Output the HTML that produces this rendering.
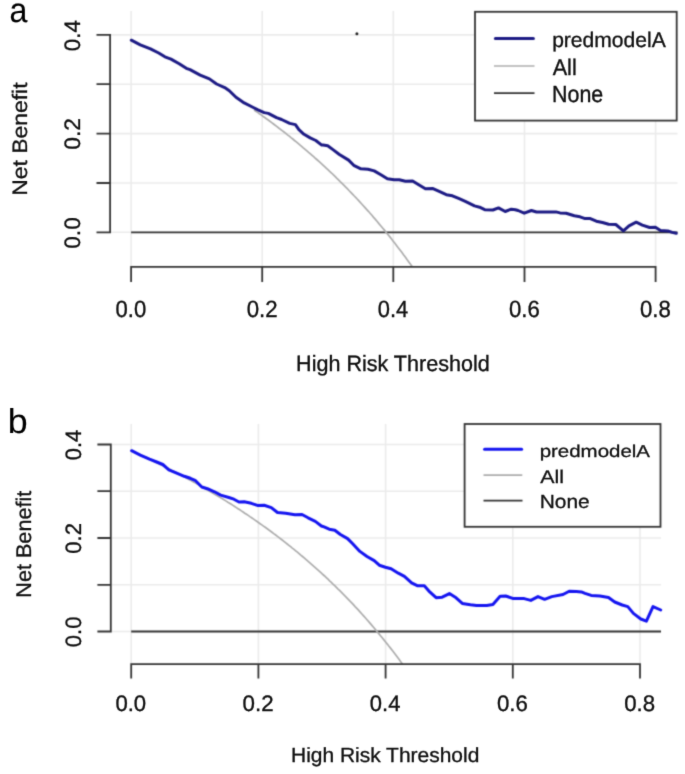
<!DOCTYPE html>
<html><head><meta charset="utf-8"><style>
html,body{margin:0;padding:0;background:#fff;}
body{width:685px;height:774px;overflow:hidden;}
svg{display:block;}
text{font-family:"Liberation Sans",sans-serif;text-rendering:geometricPrecision;}
</style></head><body>
<svg width="685" height="774" viewBox="0 0 685 774">
<defs><filter id="bl" x="0" y="0" width="685" height="774" filterUnits="userSpaceOnUse" color-interpolation-filters="sRGB"><feConvolveMatrix order="5" kernelMatrix="0.00001 0.00042 0.00170 0.00042 0.00001 0.00042 0.02740 0.10988 0.02740 0.00042 0.00170 0.10988 0.44065 0.10988 0.00170 0.00042 0.02740 0.10988 0.02740 0.00042 0.00001 0.00042 0.00170 0.00042 0.00001" edgeMode="duplicate" preserveAlpha="true"/></filter>
<filter id="th" x="0" y="0" width="685" height="774" filterUnits="userSpaceOnUse" color-interpolation-filters="sRGB"><feConvolveMatrix order="3" kernelMatrix="0.01134 0.08382 0.01134 0.08382 0.61935 0.08382 0.01134 0.08382 0.01134" edgeMode="none" preserveAlpha="false"/></filter></defs>
<g filter="url(#bl)">
<rect width="685" height="774" fill="#fff"/>
<path d="M131.1 11V266.8M262.2 11V266.8M393.3 11V266.8M524.5 11V266.8M655.6 11V266.8M110.1 232.3H677.5M110.1 183.0H677.5M110.1 133.6H677.5M110.1 84.2H677.5M110.1 34.9H677.5" stroke="#ebebeb" stroke-width="1.6" fill="none"/>
<path d="M131.1 232.3H677.5" stroke="#333" stroke-width="1.8" fill="none"/>
<polyline points="254.1,110.0 255.9,111.2 257.6,112.4 259.4,113.7 261.2,114.9 262.9,116.2 264.7,117.5 266.4,118.8 268.2,120.0 269.9,121.3 271.7,122.6 273.5,124.0 275.2,125.3 277.0,126.6 278.7,128.0 280.5,129.3 282.2,130.7 284.0,132.0 285.8,133.4 287.5,134.8 289.3,136.2 291.0,137.6 292.8,139.0 294.5,140.5 296.3,141.9 298.1,143.4 299.8,144.8 301.6,146.3 303.3,147.8 305.1,149.3 306.9,150.8 308.6,152.3 310.4,153.8 312.1,155.3 313.9,156.9 315.6,158.5 317.4,160.0 319.2,161.6 320.9,163.2 322.7,164.8 324.4,166.4 326.2,168.1 327.9,169.7 329.7,171.4 331.5,173.0 333.2,174.7 335.0,176.4 336.7,178.1 338.5,179.8 340.2,181.6 342.0,183.3 343.8,185.1 345.5,186.9 347.3,188.7 349.0,190.5 350.8,192.3 352.5,194.1 354.3,196.0 356.1,197.8 357.8,199.7 359.6,201.6 361.3,203.5 363.1,205.5 364.8,207.4 366.6,209.4 368.4,211.3 370.1,213.3 371.9,215.3 373.6,217.4 375.4,219.4 377.2,221.5 378.9,223.6 380.7,225.7 382.4,227.8 384.2,229.9 385.9,232.1 387.7,234.2 389.5,236.4 391.2,238.6 393.0,240.9 394.7,243.1 396.5,245.4 398.2,247.7 400.0,250.0 401.8,252.3 403.5,254.7 405.3,257.1 407.0,259.5 408.8,261.9 410.5,264.3 412.3,266.8" stroke="#adadad" stroke-width="1.7" fill="none"/>
<polyline points="131.3,40.2 140.3,44.8 150.5,48.9 158.7,53.0 164.9,56.8 171.0,59.1 179.2,63.7 186.3,68.3 190.0,69.7 200.2,75.1 209.4,78.9 216.6,84.0 224.7,87.6 229.3,90.7 236.0,97.3 244.2,102.9 252.3,107.0 258.0,109.8 264.2,112.6 268.3,113.4 276.5,117.7 281.6,119.5 289.7,123.4 295.4,124.6 298.9,129.7 304.0,134.3 310.2,137.9 315.8,140.5 321.4,144.9 323.1,145.1 327.7,145.8 333.3,149.9 339.4,154.5 348.6,160.1 353.7,165.3 360.9,168.8 368.0,169.3 374.2,170.9 381.3,175.0 387.4,178.8 394.2,179.8 399.3,179.8 405.4,181.2 412.6,180.9 418.7,184.7 425.4,188.8 433.0,188.6 439.2,191.4 446.3,194.7 452.4,195.8 459.2,198.7 465.3,201.4 474.5,205.9 479.6,207.2 484.7,209.7 492.9,210.0 498.5,207.9 505.2,211.5 511.3,209.2 515.4,209.7 518.1,210.5 524.2,213.2 531.4,210.5 536.5,212.0 545.7,211.9 555.9,211.9 560.0,212.9 566.1,213.2 574.3,215.8 580.0,216.8 585.1,218.6 589.7,218.4 596.3,221.2 602.5,222.5 608.6,224.2 615.8,224.5 623.4,230.9 629.0,225.8 636.2,222.2 642.3,225.1 649.6,227.5 655.4,227.3 660.5,230.5 667.8,230.9 672.2,232.4 676.2,233.3" stroke="#1c1a84" stroke-width="3.0" fill="none" stroke-linejoin="round" stroke-linecap="round"/>
<path d="M110.1 232.3V34.9M110.1 232.3H97.39999999999999M110.1 183.0H97.39999999999999M110.1 133.6H97.39999999999999M110.1 84.2H97.39999999999999M110.1 34.9H97.39999999999999M131.1 266.8H655.6M131.1 266.8V281.0M262.2 266.8V281.0M393.3 266.8V281.0M524.5 266.8V281.0M655.6 266.8V281.0" stroke="#333" stroke-width="1.8" fill="none" stroke-linecap="square"/>
<path d="M131.2 424V664.2M258.4 424V664.2M385.6 424V664.2M512.8 424V664.2M640.0 424V664.2M110.8 631.5H661M110.8 584.8H661M110.8 538.0H661M110.8 491.2H661M110.8 444.5H661" stroke="#ebebeb" stroke-width="1.6" fill="none"/>
<path d="M131.2 631.5H661" stroke="#333" stroke-width="1.8" fill="none"/>
<polyline points="131.2,450.8 132.9,451.5 134.6,452.3 136.3,453.1 138.0,453.9 139.7,454.6 141.4,455.4 143.1,456.2 144.8,457.0 146.5,457.8 148.2,458.6 149.9,459.4 151.6,460.2 153.2,461.1 154.9,461.9 156.6,462.7 158.3,463.5 160.0,464.4 161.7,465.2 163.4,466.1 165.1,466.9 166.8,467.8 168.5,468.6 170.2,469.5 171.9,470.4 173.6,471.2 175.3,472.1 177.0,473.0 178.7,473.9 180.4,474.8 182.1,475.7 183.8,476.6 185.5,477.5 187.2,478.4 188.9,479.4 190.6,480.3 192.3,481.2 194.0,482.2 195.7,483.1 197.3,484.1 199.0,485.0 200.7,486.0 202.4,486.9 204.1,487.9 205.8,488.9 207.5,489.9 209.2,490.9 210.9,491.9 212.6,492.9 214.3,493.9 216.0,494.9 217.7,495.9 219.4,496.9 221.1,498.0 222.8,499.0 224.5,500.1 226.2,501.1 227.9,502.2 229.6,503.2 231.3,504.3 233.0,505.4 234.7,506.5 236.4,507.6 238.1,508.7 239.8,509.8 241.4,510.9 243.1,512.0 244.8,513.2 246.5,514.3 248.2,515.4 249.9,516.6 251.6,517.7 253.3,518.9 255.0,520.1 256.7,521.3 258.4,522.5 260.1,523.7 261.8,524.9 263.5,526.1 265.2,527.3 266.9,528.5 268.6,529.8 270.3,531.0 272.0,532.3 273.7,533.6 275.4,534.8 277.1,536.1 278.8,537.4 280.5,538.7 282.2,540.0 283.9,541.3 285.5,542.7 287.2,544.0 288.9,545.3 290.6,546.7 292.3,548.1 294.0,549.4 295.7,550.8 297.4,552.2 299.1,553.6 300.8,555.1 302.5,556.5 304.2,557.9 305.9,559.4 307.6,560.8 309.3,562.3 311.0,563.8 312.7,565.3 314.4,566.8 316.1,568.3 317.8,569.8 319.5,571.3 321.2,572.9 322.9,574.5 324.6,576.0 326.3,577.6 328.0,579.2 329.6,580.8 331.3,582.4 333.0,584.1 334.7,585.7 336.4,587.4 338.1,589.1 339.8,590.7 341.5,592.4 343.2,594.2 344.9,595.9 346.6,597.6 348.3,599.4 350.0,601.2 351.7,602.9 353.4,604.7 355.1,606.6 356.8,608.4 358.5,610.2 360.2,612.1 361.9,614.0 363.6,615.9 365.3,617.8 367.0,619.7 368.7,621.6 370.4,623.6 372.1,625.6 373.7,627.5 375.4,629.5 377.1,631.6 378.8,633.6 380.5,635.7 382.2,637.8 383.9,639.9 385.6,642.0 387.3,644.1 389.0,646.3 390.7,648.4 392.4,650.6 394.1,652.8 395.8,655.1 397.5,657.3 399.2,659.6 400.9,661.9 402.6,664.2" stroke="#adadad" stroke-width="1.7" fill="none"/>
<polyline points="131.6,450.7 140.3,455.1 149.5,459.2 156.7,462.0 162.8,464.5 168.9,469.8 176.1,472.9 184.3,476.3 190.4,478.3 195.1,480.3 201.8,487.0 207.4,488.7 214.5,491.8 220.7,495.1 228.8,497.5 233.9,499.2 239.0,502.0 244.2,501.8 251.3,503.3 257.4,505.4 264.2,505.3 271.3,507.6 277.5,512.5 285.7,513.2 294.9,514.7 302.0,514.5 308.1,517.8 315.3,521.4 321.4,526.0 324.1,526.9 329.2,529.2 334.8,530.2 340.4,534.5 347.6,538.6 352.7,543.7 359.9,551.4 367.0,556.5 374.2,560.6 379.3,565.2 385.4,567.2 391.1,568.8 398.3,573.2 404.4,576.3 411.6,582.9 417.7,585.8 424.3,585.8 428.9,591.1 436.1,597.7 442.2,597.2 449.4,593.6 456.1,597.8 462.3,603.4 470.4,604.8 476.6,605.5 486.8,605.5 492.9,604.5 500.1,596.3 505.7,596.0 513.4,598.6 524.2,598.6 530.8,600.4 538.0,596.6 544.6,599.3 551.8,596.6 563.0,594.5 569.2,591.2 576.3,591.5 581.4,591.9 585.0,593.3 591.2,595.4 599.9,596.1 608.5,597.5 614.7,602.0 622.2,605.0 627.8,606.6 633.4,613.4 640.8,619.0 646.4,621.1 653.0,606.6 660.7,610.0" stroke="#1414f0" stroke-width="3.0" fill="none" stroke-linejoin="round" stroke-linecap="round"/>
<path d="M110.8 631.5V444.5M110.8 631.5H98.3M110.8 584.8H98.3M110.8 538.0H98.3M110.8 491.2H98.3M110.8 444.5H98.3M131.2 664.2H640.0M131.2 664.2V677.5M258.4 664.2V677.5M385.6 664.2V677.5M512.8 664.2V677.5M640.0 664.2V677.5" stroke="#333" stroke-width="1.8" fill="none" stroke-linecap="square"/>
<rect x="475" y="11.8" width="201.7" height="108.8" fill="#fff" stroke="#333" stroke-width="1.8"/>
<path d="M495.4 38.5H533.4" stroke="#1c1a84" stroke-width="3.0" stroke-linecap="round"/>
<path d="M494 66H534.5" stroke="#adadad" stroke-width="1.7"/>
<path d="M494 93.2H534.5" stroke="#333" stroke-width="1.8"/>
<rect x="464.6" y="424" width="195.9" height="102.8" fill="#fff" stroke="#333" stroke-width="1.8"/>
<path d="M484.6 449.2H521.6" stroke="#1414f0" stroke-width="3.0" stroke-linecap="round"/>
<path d="M483.5 475.2H522.3" stroke="#adadad" stroke-width="1.7"/>
<path d="M483.5 500.6H522.5" stroke="#333" stroke-width="1.8"/>
<circle cx="356.9" cy="33.7" r="1.5" fill="#222"/>
</g>
<g filter="url(#th)">
<text transform="translate(9.45,22.25) scale(1,1.0743)" font-size="32.16" style="fill:#000;stroke:#000;stroke-width:0.10">a</text>
<text transform="translate(27.49,195.73) scale(0.9149,1) rotate(-90)" font-size="22.90" style="fill:#111111;stroke:#111111;stroke-width:0.35">Net Benefit</text>
<text transform="translate(79.78,51.20) scale(0.9987,1) rotate(-90)" font-size="22.42" style="fill:#111111;stroke:#111111;stroke-width:0.35">0.4</text>
<text transform="translate(79.78,149.71) scale(0.9835,1) rotate(-90)" font-size="22.77" style="fill:#111111;stroke:#111111;stroke-width:0.35">0.2</text>
<text transform="translate(79.78,248.70) scale(0.9911,1) rotate(-90)" font-size="22.60" style="fill:#111111;stroke:#111111;stroke-width:0.35">0.0</text>
<text transform="translate(115.57,316.67) scale(1,1.0630)" font-size="22.06" style="fill:#111111;stroke:#111111;stroke-width:0.35">0.0</text>
<text transform="translate(246.68,316.67) scale(1,1.0549)" font-size="22.23" style="fill:#111111;stroke:#111111;stroke-width:0.35">0.2</text>
<text transform="translate(377.81,316.67) scale(1,1.0711)" font-size="21.89" style="fill:#111111;stroke:#111111;stroke-width:0.35">0.4</text>
<text transform="translate(508.92,316.67) scale(1,1.0589)" font-size="22.15" style="fill:#111111;stroke:#111111;stroke-width:0.35">0.6</text>
<text transform="translate(640.04,316.67) scale(1,1.0589)" font-size="22.15" style="fill:#111111;stroke:#111111;stroke-width:0.35">0.8</text>
<text transform="translate(296.08,370.85) scale(1,1.0273)" font-size="21.55" style="fill:#111111;stroke:#111111;stroke-width:0.35">High Risk Threshold</text>
<text transform="translate(552.13,46.88) scale(1,1.0000)" font-size="21.07" style="fill:#111111;stroke:#111111;stroke-width:0.35">predmodelA</text>
<text transform="translate(552.69,75.40) scale(1,1.0392)" font-size="21.63" style="fill:#111111;stroke:#111111;stroke-width:0.35">All</text>
<text transform="translate(552.09,102.27) scale(1,1.0875)" font-size="21.41" style="fill:#111111;stroke:#111111;stroke-width:0.35">None</text>
<text transform="translate(7.87,433.26) scale(1,0.9621)" font-size="35.78" style="fill:#000;stroke:#000;stroke-width:0.10">b</text>
<text transform="translate(30.79,597.73) scale(0.9815,1) rotate(-90)" font-size="21.63" style="fill:#111111;stroke:#111111;stroke-width:0.35">Net Benefit</text>
<text transform="translate(81.28,460.17) scale(1.0200,1) rotate(-90)" font-size="21.82" style="fill:#111111;stroke:#111111;stroke-width:0.35">0.4</text>
<text transform="translate(81.28,553.69) scale(1.0045,1) rotate(-90)" font-size="22.15" style="fill:#111111;stroke:#111111;stroke-width:0.35">0.2</text>
<text transform="translate(81.28,647.18) scale(1.0122,1) rotate(-90)" font-size="21.98" style="fill:#111111;stroke:#111111;stroke-width:0.35">0.0</text>
<text transform="translate(115.41,711.48) scale(1,1.0116)" font-size="22.14" style="fill:#111111;stroke:#111111;stroke-width:0.35">0.0</text>
<text transform="translate(242.61,711.48) scale(1,1.0039)" font-size="22.31" style="fill:#111111;stroke:#111111;stroke-width:0.35">0.2</text>
<text transform="translate(369.82,711.48) scale(1,1.0193)" font-size="21.97" style="fill:#111111;stroke:#111111;stroke-width:0.35">0.4</text>
<text transform="translate(497.01,711.48) scale(1,1.0077)" font-size="22.22" style="fill:#111111;stroke:#111111;stroke-width:0.35">0.6</text>
<text transform="translate(624.21,711.48) scale(1,1.0077)" font-size="22.22" style="fill:#111111;stroke:#111111;stroke-width:0.35">0.8</text>
<text transform="translate(291.02,762.29) scale(1,0.9796)" font-size="20.96" style="fill:#111111;stroke:#111111;stroke-width:0.35">High Risk Threshold</text>
<text transform="translate(539.67,456.98) scale(1,0.8412)" font-size="20.47" style="fill:#111111;stroke:#111111;stroke-width:0.35">predmodelA</text>
<text transform="translate(540.29,483.40) scale(1,0.8594)" font-size="21.35" style="fill:#111111;stroke:#111111;stroke-width:0.35">All</text>
<text transform="translate(539.73,507.91) scale(1,0.9079)" font-size="20.93" style="fill:#111111;stroke:#111111;stroke-width:0.35">None</text>
</g>
</svg>
</body></html>
